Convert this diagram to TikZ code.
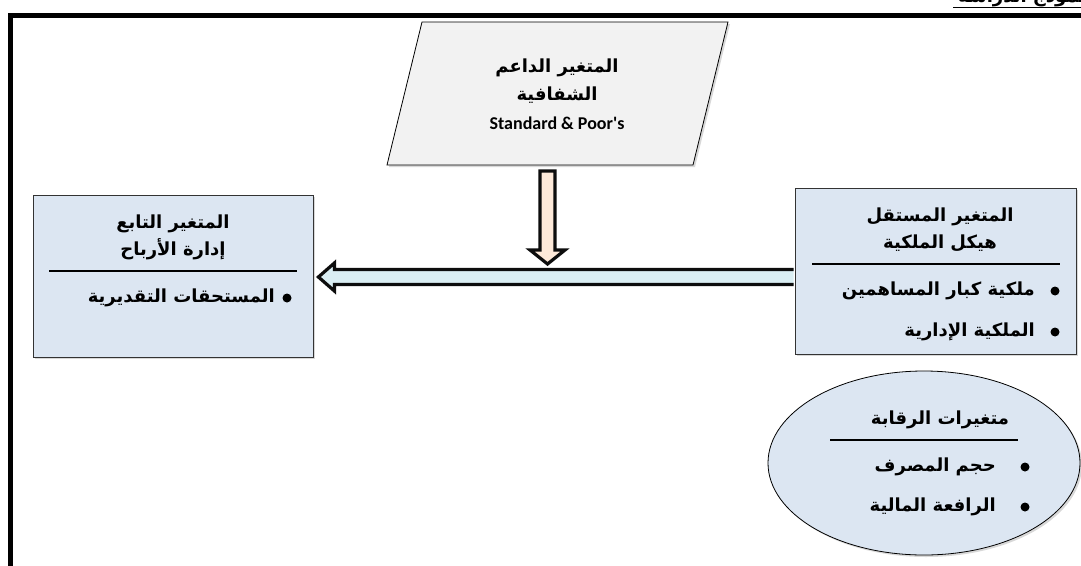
\documentclass[tikz,border=0pt]{standalone}
\usepackage{fontspec}
\setmainfont{Liberation Sans}
\newfontfamily\arabicfont[Script=Arabic]{DejaVu Sans}
\newfontfamily\latinfont{Carlito}
\TeXXeTstate=1
\usetikzlibrary{shapes.geometric,shadows,calc}
\definecolor{boxblue}{HTML}{DCE6F2}
\definecolor{boxgray}{HTML}{F2F2F2}
\definecolor{shaftblue}{HTML}{DAEEF3}
\definecolor{shaftpeach}{HTML}{FDE9D9}
\newcommand{\artxt}[1]{\beginR #1\endR}
\tikzset{
  varbox/.style={draw=black!80, fill=boxblue, line width=0.8pt, inner sep=0pt,
    drop shadow={shadow xshift=2pt, shadow yshift=-2pt, fill=black!30}},
  artext/.style={font=\arabicfont\bfseries\fontsize{18}{27}\selectfont, inner sep=0pt, align=center},
  headrule/.style={line width=2.6pt},
  blockarrow/.style={draw=black!95, line width=3.2pt, miter limit=10, line join=miter},
  frameline/.style={line width=4.5pt}
}
\begin{document}
\begin{tikzpicture}[x=1pt,y=-1pt]
\useasboundingbox (0,0) rectangle (1081,565);
% outer frame and cut title
\draw[frameline] (1095,15.5) -- (10.5,15.5) -- (10.5,580);
\node[artext, anchor=base west] (title) at (958,2) {\artxt{نموذج الدراسة}};
\draw[line width=1.6pt] (953,7.5) -- (1090,7.5);

% boxes
\node[varbox, minimum width=280pt, minimum height=162pt] (dep) at (173,276) {};
\node[varbox, minimum width=281pt, minimum height=166pt] (indep) at (935.5,271) {};
\node[varbox, draw=black, ellipse, minimum width=312pt, minimum height=184pt] (ctrl) at (924,463) {};

% horizontal arrow
\coordinate (hR) at ($(indep.west)+(-1,6)$);
\coordinate (hL) at ($(dep.east)+(5,1)$);
\fill[shaftblue] ($(hR)+(0,-7.5)$) -- ($(hL)+(16,-7.5)$) -- ($(hL)+(16,-14)$) -- (hL)
  -- ($(hL)+(16,14)$) -- ($(hL)+(16,7.5)$) -- ($(hR)+(0,7.5)$) -- cycle;
\draw[blockarrow] ($(hR)+(0,-7.5)$) -- ($(hL)+(16,-7.5)$) -- ($(hL)+(16,-14)$) -- (hL)
  -- ($(hL)+(16,14)$) -- ($(hL)+(16,7.5)$) -- ($(hR)+(0,7.5)$);

% moderating variable
\coordinate (moder) at (557.5,93.5);
\draw[fill=boxgray, line width=0.8pt,
  drop shadow={shadow xshift=2pt, shadow yshift=-2pt, fill=black!30}]
  ($(moder)+(-135.5,-71.5)$) -- ($(moder)+(170.5,-71.5)$) -- ($(moder)+(135.5,71.5)$)
  -- ($(moder)+(-170.5,71.5)$) -- cycle;
\coordinate (moderS) at ($(moder)+(0,71.5)$);

% vertical arrow
\coordinate (vTop) at ($(moderS)+(-10,6)$);
\coordinate (vTip) at ($(vTop |- hR)+(0,-13)$);
\draw[blockarrow, fill=shaftpeach] ($(vTop)+(-7.5,0)$) -- ($(vTop)+(7.5,0)$) -- ($(vTip)+(7.5,-14)$)
  -- ($(vTip)+(17.5,-14)$) -- (vTip) -- ($(vTip)+(-17.5,-14)$) -- ($(vTip)+(-7.5,-14)$) -- cycle;

% texts of the moderating variable
\node[artext] (moderA) at (557,68) {\artxt{المتغير الداعم}};
\node[artext] (moderB) at (557,95) {\artxt{الشفافية}};
\node[font=\latinfont\bfseries\fontsize{18}{20}\selectfont, inner sep=0pt] (moderC) at (557,123) {Standard \& Poor's};

% dependent variable
\node[artext] (depT) at (173,237) {\artxt{المتغير التابع}\\\artxt{إدارة الأرباح}};
\draw[headrule] (49,271) -- (297,271);
\fill (287,298) circle (4.5);
\node[artext, anchor=east] (depA) at (275,298) {\artxt{المستحقات التقديرية}};

% independent variable
\node[artext] (indepT) at (940,230) {\artxt{المتغير المستقل}\\\artxt{هيكل الملكية}};
\draw[headrule] (812,264) -- (1060,264);
\fill (1055,291) circle (4.5);
\fill (1055,332) circle (4.5);
\node[artext, anchor=east] (indepA) at (1035,291) {\artxt{ملكية كبار المساهمين}};
\node[artext, anchor=east] (indepB) at (1035,332) {\artxt{الملكية الإدارية}};

% control variables
\node[artext] (ctrlT) at (940,420) {\artxt{متغيرات الرقابة}};
\draw[headrule] (830,440) -- (1018,440);
\fill (1025,467) circle (4.5);
\fill (1025,507) circle (4.5);
\node[artext, anchor=east] (ctrlA) at (996,467) {\artxt{حجم المصرف}};
\node[artext, anchor=east] (ctrlB) at (996,507) {\artxt{الرافعة المالية}};
\end{tikzpicture}
\end{document}
